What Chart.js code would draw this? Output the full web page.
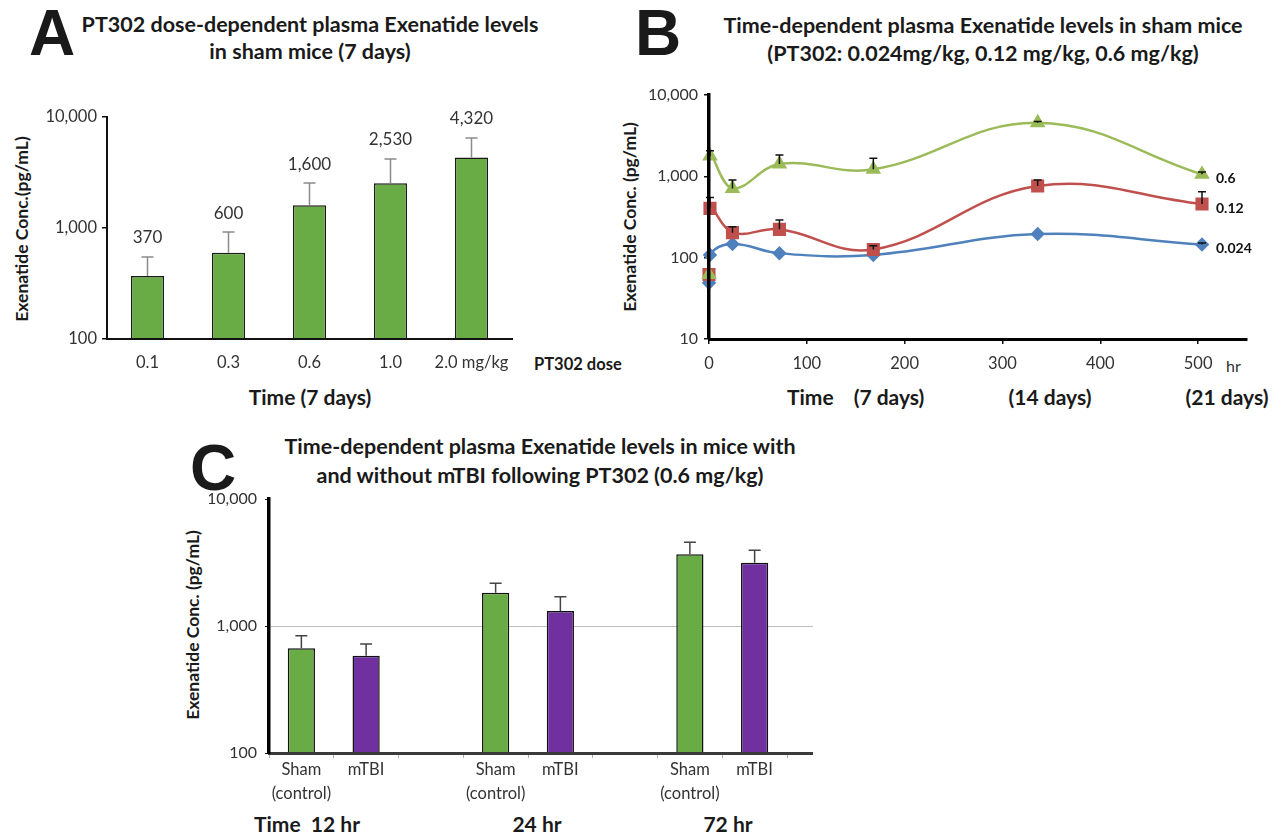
<!DOCTYPE html>
<html><head><meta charset="utf-8">
<script src="https://cdn.jsdelivr.net/npm/chart.js@4.4.1/dist/chart.umd.min.js"></script>
<style>
html,body{margin:0;padding:0;background:#fff}
body{width:1287px;height:835px;position:relative;overflow:hidden;font-family:Lato,"Open Sans",sans-serif;color:#1a1a1a}
.t{position:absolute;white-space:nowrap;line-height:1}
.c{transform:translate(-50%,-50%)}
.l{transform:translateY(-50%)}
.big{font-family:"Liberation Sans",Arial,sans-serif;font-weight:bold;font-size:64px}
.ttl{font-weight:bold;font-size:21.5px}
.yt{font-weight:bold;font-size:17.5px;transform:translate(-50%,-50%) rotate(-90deg)}
.xb{font-weight:bold;font-size:21px}
canvas{position:absolute}
</style></head>
<body>
<!-- Panel A texts -->
<div class="t big c" style="left:52px;top:33px">A</div>
<div class="t ttl c" style="left:310px;top:25px">PT302 dose-dependent plasma Exenatide levels</div>
<div class="t ttl c" style="left:310px;top:52px">in sham mice (7 days)</div>
<div class="t yt" style="left:22px;top:229px">Exenatide Conc.(pg/mL)</div>
<div class="t l" style="left:534px;top:364px;font-weight:bold;font-size:16.5px">PT302 dose</div>
<div class="t xb c" style="left:310px;top:396px">Time (7 days)</div>
<!-- Panel B texts -->
<div class="t big c" style="left:658px;top:33px">B</div>
<div class="t ttl c" style="left:983px;top:26px">Time-dependent plasma Exenatide levels in sham mice</div>
<div class="t ttl c" style="left:983px;top:54px">(PT302: 0.024mg/kg, 0.12 mg/kg, 0.6 mg/kg)</div>
<div class="t yt" style="left:630px;top:217px">Exenatide Conc. (pg/mL)</div>
<div class="t l" style="left:1226px;top:366px;font-size:16px;color:#333">hr</div>
<div class="t xb l" style="left:787px;top:396px">Time</div>
<div class="t xb c" style="left:889px;top:396px">(7 days)</div>
<div class="t xb c" style="left:1050px;top:396px">(14 days)</div>
<div class="t xb c" style="left:1227px;top:396px">(21 days)</div>
<!-- Panel C texts -->
<div class="t big c" style="left:213px;top:468px">C</div>
<div class="t ttl c" style="left:540px;top:447px">Time-dependent plasma Exenatide levels in mice with</div>
<div class="t ttl c" style="left:540px;top:476px">and without mTBI following PT302 (0.6 mg/kg)</div>
<div class="t yt" style="left:193px;top:625px">Exenatide Conc. (pg/mL)</div>
<div class="t xb l" style="left:254px;top:823px">Time&nbsp; 12 hr</div>
<div class="t xb c" style="left:537px;top:823px">24 hr</div>
<div class="t xb c" style="left:728px;top:823px">72 hr</div>

<canvas id="ca" width="640" height="420" style="left:0;top:0"></canvas>
<canvas id="cb" width="687" height="420" style="left:600px;top:0"></canvas>
<canvas id="cc" width="660" height="355" style="left:170px;top:480px"></canvas>

<script>
// ---------- data ----------
const logTicks = [100, 1000, 10000];
const bLogTicks = [10, 100, 1000, 10000];

// Panel A
const aDoses = ['0.1', '0.3', '0.6', '1.0', '2.0 mg/kg'];
const aConc = [370, 600, 1600, 2530, 4320];
const aErr = [178, 320, 940, 1655, 2150];
const aValueLabels = ['370', '600', '1,600', '2,530', '4,320'];

// Panel B
const bHours = [0, 1, 24, 72, 168, 336, 504];
const bHourTicks = [0, 100, 200, 300, 400, 500];
const bDose06 = [62, 1780, 711, 1416, 1219, 4570, 1060];
const bDose06Err = [0, 285, 190, 410, 445, 150, 70];
const bDose012 = [62, 404, 203, 223, 126, 760, 456];
const bDose012Err = [0, 147, 37, 67, 14, 140, 190];
const bDose0024 = [49, 108, 147, 113, 108, 195, 145];
const bDose0024Err = [0, 0, 0, 0, 0, 0, 6];

// Panel C
const cLabels = [['Sham', '(control)'], 'mTBI', '', ['Sham', '(control)'], 'mTBI', '', ['Sham', '(control)'], 'mTBI'];
const cShamSlots = [0, 3, 6];
const cMtbiSlots = [1, 4, 7];
const cSham = [667, 1829, 3670];
const cShamErr = [172, 341, 893];
const cMtbi = [584, 1313, 3155];
const cMtbiErr = [137, 389, 790];

// ---------- helpers ----------
Chart.defaults.font.family = 'Lato, "Open Sans", sans-serif';
Chart.defaults.color = '#333';
const fmt = v => Number(v).toLocaleString('en-US');

const errorBars = {
  id: 'errorBars',
  afterDatasetsDraw(chart) {
    const ctx = chart.ctx;
    chart.data.datasets.forEach((ds, di) => {
      if (!ds.errUp) return;
      const meta = chart.getDatasetMeta(di);
      const ys = chart.scales[meta.yAxisID];
      ctx.save();
      ctx.strokeStyle = ds.errColor;
      ctx.lineWidth = ds.errWidth;
      meta.data.forEach((el, i) => {
        const raw = ds.data[i];
        const val = (raw && typeof raw === 'object') ? raw.y : raw;
        const e = ds.errUp[i];
        if (val == null || !e) return;
        const x = el.x, y0 = el.y, y1 = ys.getPixelForValue(val + e);
        ctx.beginPath();
        ctx.moveTo(x, y0); ctx.lineTo(x, y1);
        ctx.moveTo(x - ds.capHalf, y1); ctx.lineTo(x + ds.capHalf, y1);
        ctx.stroke();
      });
      ctx.restore();
    });
  }
};

// ---------- Panel A ----------
const aValueLabelPlugin = {
  id: 'aValueLabels',
  afterDatasetsDraw(chart) {
    const ctx = chart.ctx, ys = chart.scales.y;
    const meta = chart.getDatasetMeta(0);
    ctx.save();
    ctx.font = '17px Lato, "Open Sans", sans-serif';
    ctx.fillStyle = '#333';
    ctx.textAlign = 'center';
    ctx.textBaseline = 'middle';
    meta.data.forEach((el, i) => {
      const y = ys.getPixelForValue(aConc[i] + aErr[i]) - 19;
      ctx.fillText(aValueLabels[i], el.x, y);
    });
    ctx.restore();
  }
};

new Chart(document.getElementById('ca'), {
  type: 'bar',
  data: {
    labels: aDoses,
    datasets: [{
      data: aConc,
      backgroundColor: '#69ab45',
      borderColor: '#1a1a1a',
      borderWidth: 1.5,
      barPercentage: 0.41,
      categoryPercentage: 1,
      errUp: aErr, errColor: '#8a8a8a', errWidth: 1.5, capHalf: 6
    }]
  },
  options: {
    responsive: false, animation: false, devicePixelRatio: 1,
    layout: { padding: { left: 47, right: 128, top: 117, bottom: 41 } },
    plugins: { legend: { display: false }, tooltip: { enabled: false } },
    scales: {
      x: {
        afterFit: s => { s.height = 40; },
        grid: { display: true, drawOnChartArea: false, drawTicks: false },
        border: { color: '#111', width: 2, z: 1 },
        ticks: { font: { size: 16.5 }, color: '#333', padding: 14 }
      },
      y: {
        type: 'logarithmic', min: 100, max: 10000,
        afterFit: s => { s.width = 60; },
        afterBuildTicks: s => { s.ticks = logTicks.map(v => ({ value: v })); },
        grid: { drawOnChartArea: false, tickLength: 5, color: '#111', lineWidth: 1.5 },
        border: { color: '#111', width: 2, z: 1 },
        ticks: { font: { size: 16.5 }, color: '#333', padding: 5, callback: v => fmt(v) }
      }
    }
  },
  plugins: [errorBars, aValueLabelPlugin]
});

// ---------- Panel B ----------
const seriesEndLabels = {
  id: 'seriesEndLabels',
  afterDatasetsDraw(chart) {
    const ctx = chart.ctx;
    ctx.save();
    ctx.font = 'bold 14px Lato, "Open Sans", sans-serif';
    ctx.fillStyle = '#111';
    ctx.textAlign = 'left';
    ctx.textBaseline = 'middle';
    chart.data.datasets.forEach((ds, di) => {
      const meta = chart.getDatasetMeta(di);
      const last = meta.data[meta.data.length - 1];
      ctx.fillText(ds.label, last.x + 14, last.y + 4);
    });
    ctx.restore();
  }
};
const toXY = arr => bHours.map((h, i) => ({ x: h, y: arr[i] }));
const bLine = (label, arr, err, color, style, radius) => ({
  label, data: toXY(arr), borderColor: color, backgroundColor: color,
  borderWidth: 2.5, tension: 0.4, pointStyle: style, pointRadius: radius,
  pointBorderColor: color, pointBackgroundColor: color, clip: false,
  // the baseline-to-first-sample rise sits under the thick y axis in the original
  segment: { borderColor: s => s.p0DataIndex === 0 ? 'rgba(0,0,0,0)' : undefined },
  errUp: err, errColor: '#111', errWidth: 1.5, capHalf: 4
});

new Chart(document.getElementById('cb'), {
  type: 'line',
  data: {
    datasets: [
      bLine('0.6', bDose06, bDose06Err, '#9bbb59', 'triangle', 6.5),
      bLine('0.12', bDose012, bDose012Err, '#c0504d', 'rect', 7.5),
      bLine('0.024', bDose0024, bDose0024Err, '#4f81bd', 'rectRot', 5.5)
    ]
  },
  options: {
    responsive: false, animation: false, devicePixelRatio: 1,
    layout: { padding: { left: 39, right: 40, top: 95, bottom: 41 } },
    plugins: { legend: { display: false }, tooltip: { enabled: false } },
    scales: {
      x: {
        type: 'linear', min: 0, max: 550,
        afterFit: s => { s.height = 40; },
        afterBuildTicks: s => { s.ticks = bHourTicks.map(v => ({ value: v })); },
        grid: { drawOnChartArea: false, tickLength: 5, color: '#111', lineWidth: 1.5 },
        border: { color: '#000', width: 3, z: 1 },
        ticks: { font: { size: 16.5 }, color: '#333', padding: 10, maxRotation: 0 }
      },
      y: {
        type: 'logarithmic', min: 10, max: 10000,
        afterFit: s => { s.width = 70; },
        afterBuildTicks: s => { s.ticks = bLogTicks.map(v => ({ value: v })); },
        grid: { drawOnChartArea: false, tickLength: 5, color: '#111', lineWidth: 1.5 },
        border: { color: '#000', width: 3.5, z: 1 },
        ticks: { font: { size: 16 }, color: '#333', padding: 6, callback: v => fmt(v) }
      }
    }
  },
  plugins: [errorBars, seriesEndLabels]
});

// ---------- Panel C ----------
const slotData = (slots, vals) => cLabels.map((_, i) => { const k = slots.indexOf(i); return k >= 0 ? vals[k] : null; });
const extendAxis = {
  id: 'extendAxis',
  afterDraw(chart) {
    const { ctx, chartArea, scales } = chart;
    const ext = 26;
    ctx.save();
    const yy = Math.round(scales.y.getPixelForValue(1000)) + 0.5;
    ctx.strokeStyle = '#bdbdbd'; ctx.lineWidth = 1;
    ctx.beginPath(); ctx.moveTo(chartArea.right, yy); ctx.lineTo(chartArea.right + ext, yy); ctx.stroke();
    const xb = Math.round(scales.x.top) + 0.5;
    ctx.strokeStyle = '#3a3a3a'; ctx.lineWidth = 3;
    ctx.beginPath(); ctx.moveTo(chartArea.right - 3, xb); ctx.lineTo(chartArea.right + ext, xb); ctx.stroke();
    ctx.restore();
  }
};

new Chart(document.getElementById('cc'), {
  type: 'bar',
  data: {
    labels: cLabels,
    datasets: [
      { label: 'Sham (control)', data: slotData(cShamSlots, cSham), backgroundColor: '#69ab45',
        borderColor: '#111', borderWidth: 1.5, grouped: false, barPercentage: 0.42, categoryPercentage: 1,
        errUp: slotData(cShamSlots, cShamErr), errColor: '#444', errWidth: 1.5, capHalf: 6 },
      { label: 'mTBI', data: slotData(cMtbiSlots, cMtbi), backgroundColor: '#7030a0',
        borderColor: '#111', borderWidth: 1.5, grouped: false, barPercentage: 0.42, categoryPercentage: 1,
        errUp: slotData(cMtbiSlots, cMtbiErr), errColor: '#444', errWidth: 1.5, capHalf: 6 }
    ]
  },
  options: {
    responsive: false, animation: false, devicePixelRatio: 1,
    layout: { padding: { left: 39, right: 43, top: 19, bottom: 32 } },
    plugins: { legend: { display: false }, tooltip: { enabled: false } },
    scales: {
      x: {
        afterFit: s => { s.height = 50; },
        grid: { drawOnChartArea: false, tickLength: 5, color: '#aaa', offset: true },
        border: { color: '#3a3a3a', width: 3, z: 1 },
        ticks: { font: { size: 16.5, lineHeight: 1.45 }, color: '#333', padding: 0, maxRotation: 0, autoSkip: false }
      },
      y: {
        type: 'logarithmic', min: 100, max: 10000,
        afterFit: s => { s.width = 60; },
        afterBuildTicks: s => { s.ticks = logTicks.map(v => ({ value: v })); },
        grid: { color: c => (c.tick && c.tick.value === 1000) ? '#bdbdbd' : 'rgba(0,0,0,0)', tickColor: '#111', tickLength: 4 },
        border: { color: '#000', width: 3.5, z: 1 },
        ticks: { font: { size: 16 }, color: '#333', padding: 8, callback: v => fmt(v) }
      }
    }
  },
  plugins: [errorBars, extendAxis]
});
</script>
</body></html>
